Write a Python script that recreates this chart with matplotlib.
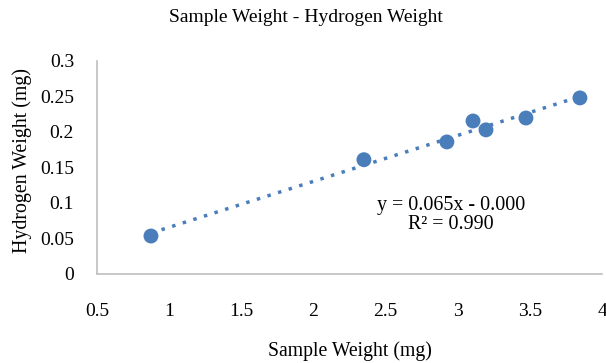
import numpy as np
import matplotlib
matplotlib.use("Agg")
import matplotlib.pyplot as plt

plt.rcParams['font.family'] = ['Liberation Serif', 'DejaVu Serif']

sample_weight = [0.874, 2.35, 2.925, 3.106, 3.196, 3.473, 3.847]
hydrogen_weight = [0.0535, 0.161, 0.186, 0.2155, 0.203, 0.2197, 0.248]
x_ticks = [0.5, 1, 1.5, 2, 2.5, 3, 3.5, 4]
y_ticks = [0, 0.05, 0.1, 0.15, 0.2, 0.25, 0.3]
x_tick_labels = ['0.5', '1', '1.5', '2', '2.5', '3', '3.5', '4']
y_tick_labels = ['0', '0.05', '0.1', '0.15', '0.2', '0.25', '0.3']
equation_text = "y = 0.065x - 0.000\nR² = 0.990"

color = '#4a7ebb'
fig = plt.figure(figsize=(6.06, 3.63), dpi=100)
ax = fig.add_axes([97/606, 1 - 274/363, (602-97)/606, (274-61)/363])

x = np.array(sample_weight)
y = np.array(hydrogen_weight)
m, b = np.polyfit(x, y, 1)
xl = np.array([x.min(), x.max()])
ax.plot(xl, m*xl + b, linestyle=(0, (1, 2.2)), color=color, linewidth=2.5, zorder=2)
ax.scatter(x, y, s=115, color=color, zorder=3, edgecolors='none')

ax.set_xlim(0.5, 4)
ax.set_ylim(0, 0.3)
ax.set_xticks(x_ticks)
ax.set_xticklabels(x_tick_labels)
ax.set_yticks(y_ticks)
ax.set_yticklabels(y_tick_labels)
ax.tick_params(length=0, labelsize=14)
ax.tick_params(axis='y', pad=16.5)
ax.tick_params(axis='x', pad=21)
for s in ['top', 'right']:
    ax.spines[s].set_visible(False)
for s in ['left', 'bottom']:
    ax.spines[s].set_color('#bfbfbf')
    ax.spines[s].set_linewidth(1.2)

ax.text(2.953, 0.083, equation_text, ha='center', va='center', fontsize=14.4, linespacing=0.95)

ax.set_xlabel('Sample Weight (mg)', fontsize=14.2, labelpad=15)
ax.set_ylabel('Hydrogen Weight (mg)', fontsize=14.3)
ax.yaxis.set_label_coords(-0.129, 0.535)
fig.text(306/606, 1 - 18/363, 'Sample Weight - Hydrogen Weight', ha='center', va='center', fontsize=14)

fig.savefig('out.png', dpi=100, facecolor='white')
